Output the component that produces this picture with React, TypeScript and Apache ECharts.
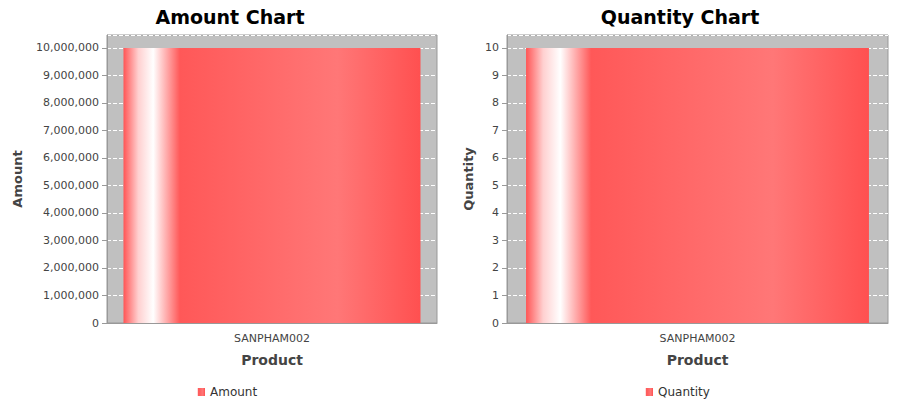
import React, { useEffect, useRef } from 'react';
import * as echarts from 'echarts';

const categories = ['SANPHAM002'];
const amountValues = [10000000];
const quantityValues = [10];

const barGradient = () =>
  new echarts.graphic.LinearGradient(0, 0, 1, 0, [
    { offset: 0, color: '#ff5555' },
    { offset: 0.05, color: '#ffd0d0' },
    { offset: 0.1, color: '#ffffff' },
    { offset: 0.19, color: '#ff5858' },
    { offset: 0.72, color: '#ff7777' },
    { offset: 1, color: '#ff5050' },
  ]);

const App = () => {
  const chartRef = useRef<HTMLDivElement>(null);

  useEffect(() => {
    document.body.style.margin = '0';
    if (!chartRef.current) return;
    const chart = echarts.init(chartRef.current, null, { renderer: 'svg' });

    const font = 'Tahoma, "DejaVu Sans", sans-serif';
    const xAxisBase = {
      type: 'category',
      data: categories,
      nameLocation: 'middle',
      nameGap: 30,
      name: 'Product',
      nameTextStyle: { fontSize: 14, color: '#444', fontFamily: font, fontWeight: 'bold' },
      axisLine: { lineStyle: { color: '#999' } },
      axisTick: { show: false },
      axisLabel: { color: '#444', fontSize: 11, fontFamily: font, margin: 10 },
    };
    const yAxisBase = {
      type: 'value',
      min: 0,
      nameLocation: 'middle',
      nameTextStyle: { fontSize: 13, color: '#444', fontFamily: font, fontWeight: 'bold' },
      axisLine: { show: true, lineStyle: { color: '#999' } },
      axisTick: { show: true, lineStyle: { color: '#999' } },
      axisLabel: { color: '#444', fontSize: 11, fontFamily: font, showMaxLabel: false },
      splitLine: { lineStyle: { color: '#ffffff', type: 'dashed' } },
    };

    chart.setOption({
      animation: false,
      title: [
        { text: 'Amount Chart', left: 225, top: 2, textAlign: 'center', textStyle: { fontSize: 19, fontWeight: 'bold', color: '#000', fontFamily: font } },
        { text: 'Quantity Chart', left: 675, top: 2, textAlign: 'center', textStyle: { fontSize: 19, fontWeight: 'bold', color: '#000', fontFamily: font } },
      ],
      legend: [
        { data: ['Amount'], left: 192, top: 381, icon: 'rect', itemWidth: 8, itemHeight: 8, itemGap: 4, textStyle: { fontSize: 12, color: '#333', fontFamily: font } },
        { data: ['Quantity'], left: 640, top: 381, icon: 'rect', itemWidth: 8, itemHeight: 8, itemGap: 4, textStyle: { fontSize: 12, color: '#333', fontFamily: font } },
      ],
      grid: [
        { left: 107, right: 463, top: 35, bottom: 77, show: true, backgroundColor: '#c0c0c0', borderColor: '#999', borderWidth: 1 },
        { left: 507, right: 12, top: 35, bottom: 77, show: true, backgroundColor: '#c0c0c0', borderColor: '#999', borderWidth: 1 },
      ],
      xAxis: [
        { ...xAxisBase, gridIndex: 0 },
        { ...xAxisBase, gridIndex: 1 },
      ],
      yAxis: [
        { ...yAxisBase, gridIndex: 0, name: 'Amount', nameGap: 83, max: 10470000, interval: 1000000 },
        { ...yAxisBase, gridIndex: 1, name: 'Quantity', nameGap: 32, max: 10.47, interval: 1 },
      ],
      series: [
        { name: 'Amount', type: 'bar', xAxisIndex: 0, yAxisIndex: 0, barCategoryGap: '10%', data: amountValues, itemStyle: { color: barGradient() } },
        { name: 'Quantity', type: 'bar', xAxisIndex: 1, yAxisIndex: 1, barCategoryGap: '10%', data: quantityValues, itemStyle: { color: barGradient() } },
      ],
    });

    return () => chart.dispose();
  }, []);

  return <div ref={chartRef} style={{ width: 900, height: 400 }} />;
};

export default App;
